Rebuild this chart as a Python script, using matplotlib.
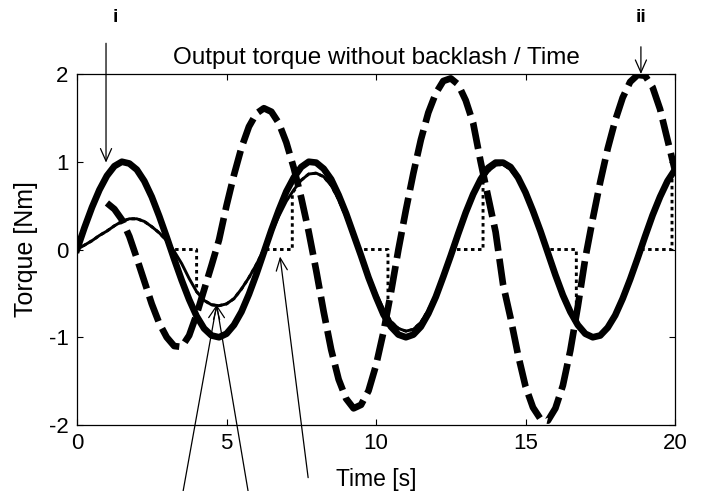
import matplotlib
matplotlib.use("Agg")
import matplotlib.pyplot as plt

plt.rcParams['font.family'] = ['Liberation Sans', 'DejaVu Sans']
plt.rcParams['axes.unicode_minus'] = False

# time grid [s], 0.25 s steps
time = [0, 0.25, 0.5, 0.75, 1.0, 1.25, 1.5, 1.75, 2.0, 2.25, 2.5, 2.75, 3.0, 3.25,
        3.5, 3.75, 4.0, 4.25, 4.5, 4.75, 5.0, 5.25, 5.5, 5.75, 6.0, 6.25, 6.5, 6.75,
        7.0, 7.25, 7.5, 7.75, 8.0, 8.25, 8.5, 8.75, 9.0, 9.25, 9.5, 9.75, 10.0,
        10.25, 10.5, 10.75, 11.0, 11.25, 11.5, 11.75, 12.0, 12.25, 12.5, 12.75,
        13.0, 13.25, 13.5, 13.75, 14.0, 14.25, 14.5, 14.75, 15.0, 15.25, 15.5,
        15.75, 16.0, 16.25, 16.5, 16.75, 17.0, 17.25, 17.5, 17.75, 18.0, 18.25,
        18.5, 18.75, 19.0, 19.25, 19.5, 19.75, 20.0]

# thick solid - reference torque
ref_torque = [0.00, 0.25, 0.48, 0.68, 0.84, 0.95, 1.00, 0.98, 0.91, 0.78, 0.60, 0.38,
              0.14, -0.11, -0.35, -0.57, -0.76, -0.90, -0.98, -1.00, -0.96, -0.86,
              -0.71, -0.51, -0.28, -0.03, 0.22, 0.45, 0.66, 0.82, 0.94, 1.00, 0.99,
              0.92, 0.80, 0.62, 0.41, 0.17, -0.07, -0.32, -0.54, -0.74, -0.88, -0.97,
              -1.00, -0.97, -0.88, -0.73, -0.54, -0.31, -0.07, 0.18, 0.42, 0.63, 0.80,
              0.93, 0.99, 0.99, 0.94, 0.82, 0.65, 0.44, 0.21, -0.04, -0.29, -0.52,
              -0.71, -0.86, -0.96, -1.00, -0.98, -0.89, -0.75, -0.56, -0.34, -0.10,
              0.15, 0.39, 0.60, 0.78, 0.91]

# thin solid - output torque
out_torque = [0.00, 0.05, 0.10, 0.16, 0.21, 0.27, 0.32, 0.35, 0.35, 0.32, 0.26, 0.19,
              0.10, -0.02, -0.16, -0.33, -0.48, -0.58, -0.63, -0.64, -0.62, -0.56,
              -0.45, -0.32, -0.17, 0.00, 0.19, 0.38, 0.55, 0.68, 0.79, 0.86, 0.87,
              0.83, 0.73, 0.57, 0.37, 0.15, -0.07, -0.29, -0.50, -0.68, -0.82, -0.90,
              -0.93, -0.91, -0.83, -0.69, -0.51, -0.29, -0.06, 0.17, 0.40, 0.60, 0.77,
              0.89, 0.96, 0.97, 0.91, 0.80, 0.64, 0.43, 0.20, -0.04, -0.28, -0.51,
              -0.70, -0.85, -0.95, -0.99, -0.97, -0.89, -0.745, -0.56, -0.34, -0.10,
              0.15, 0.39, 0.60, 0.78, 0.91]

# thick dashed - motor torque (starts at t = 1 s)
motor_t = time[4:]
motor_torque = [0.53, 0.46, 0.34, 0.15, -0.10, -0.36, -0.62, -0.84, -1.00, -1.10,
                -1.11, -0.98, -0.74, -0.46, -0.18, 0.11, 0.50, 0.85, 1.16, 1.40,
                1.55, 1.61, 1.57, 1.44, 1.22, 0.93, 0.59, 0.20, -0.24, -0.71, -1.14,
                -1.48, -1.70, -1.81, -1.77, -1.61, -1.32, -0.94, -0.49, 0.00, 0.45,
                0.87, 1.25, 1.56, 1.78, 1.92, 1.95, 1.88, 1.70, 1.44, 1.00, 0.60,
                0.20, -0.40, -0.78, -1.20, -1.56, -1.80, -1.93, -1.95, -1.81, -1.55,
                -1.15, -0.65, -0.10, 0.35, 0.77, 1.15, 1.47, 1.73, 1.91, 1.99, 1.98,
                1.85, 1.60, 1.25, 0.90]

# dotted - dead zone signal (outside the dead zones it equals the thin curve)
dz_t = [0, 0.25, 0.5, 0.75, 1.0, 1.25, 1.5, 1.75, 2.0, 2.25, 2.5, 2.75, 3.0, 3.2,
        4.0, 4.0, 4.25, 4.5, 4.75, 5.0, 5.25, 5.5, 5.75, 6.0, 6.25, 7.2, 7.2, 7.5,
        7.75, 8.0, 8.25, 8.5, 8.75, 9.0, 9.25, 9.45, 10.4, 10.4, 10.5, 10.75, 11.0,
        11.25, 11.5, 11.75, 12.0, 12.25, 12.55, 13.58, 13.58, 13.75, 14.0, 14.25,
        14.5, 14.75, 15.0, 15.25, 15.5, 15.7, 16.7, 16.7, 16.75, 17.0, 17.25, 17.5,
        17.75, 18.0, 18.25, 18.5, 18.85, 19.9, 19.9, 20.0]
dz_torque = [0, 0.05, 0.10, 0.16, 0.21, 0.27, 0.32, 0.35, 0.35, 0.32, 0.26, 0.19,
             0.10, 0, 0, -0.48, -0.58, -0.63, -0.64, -0.62, -0.56, -0.45, -0.32,
             -0.17, 0, 0, 0.64, 0.79, 0.86, 0.87, 0.83, 0.73, 0.57, 0.37, 0.15, 0, 0,
             -0.76, -0.82, -0.90, -0.93, -0.91, -0.83, -0.69, -0.51, -0.29, 0, 0,
             0.80, 0.89, 0.96, 0.97, 0.91, 0.80, 0.64, 0.43, 0.20, 0, 0, -0.80,
             -0.85, -0.95, -0.99, -0.97, -0.89, -0.745, -0.56, -0.34, 0, 0, 0.86, 0.91]

fig = plt.figure(figsize=(7.04, 4.91), dpi=100)
ax = fig.add_axes([0.1094, 0.1344, 0.8494, 0.7149])

ax.plot(time, ref_torque, color='black', lw=4.8, solid_joinstyle='round', zorder=2)
ax.plot(dz_t, dz_torque, color='black', lw=2.1, dashes=(1.2, 1.2),
        dash_capstyle='butt', zorder=2.1)
ax.plot(time, out_torque, color='black', lw=2.1, zorder=2.2)
ax.plot(motor_t, motor_torque, color='black', lw=4.8, dashes=(4, 1.2),
        dash_capstyle='butt', zorder=2.3)

ax.set_xlim(0, 20)
ax.set_ylim(-2, 2)
ax.set_xticks([0, 5, 10, 15, 20])
ax.set_yticks([-2, -1, 0, 1, 2])
ax.tick_params(direction='in', length=4.3, width=0.8, top=True, right=True,
               labelsize=16, pad=6)
for s in ax.spines.values():
    s.set_linewidth(0.9)

ax.set_title('Output torque without backlash / Time', fontsize=17.5, pad=7)
ax.set_xlabel('Time [s]', fontsize=16.5, labelpad=10)
ax.set_ylabel('Torque [Nm]', fontsize=18, labelpad=8)

arrow = dict(arrowstyle='->,head_length=0.45,head_width=0.2', color='black',
             lw=0.9, mutation_scale=20, shrinkA=0, shrinkB=0)
ax.annotate('', xy=(0.97, 0.99), xytext=(0.97, 2.35), arrowprops=arrow,
            annotation_clip=False)
ax.annotate('', xy=(18.86, 2.0), xytext=(18.86, 2.31), arrowprops=arrow,
            annotation_clip=False)
ax.annotate('', xy=(4.67, -0.63), xytext=(3.55, -2.75), arrowprops=arrow,
            annotation_clip=False)
ax.annotate('', xy=(4.67, -0.63), xytext=(5.72, -2.75), arrowprops=arrow,
            annotation_clip=False)
ax.annotate('', xy=(6.79, -0.08), xytext=(7.73, -2.60), arrowprops=arrow,
            annotation_clip=False)
ax.text(1.27, 2.64, 'i', fontsize=14, fontweight='bold', ha='center', va='center')
ax.text(18.86, 2.64, 'ii', fontsize=14, fontweight='bold', ha='center', va='center')

fig.savefig('out.png', dpi=100)
